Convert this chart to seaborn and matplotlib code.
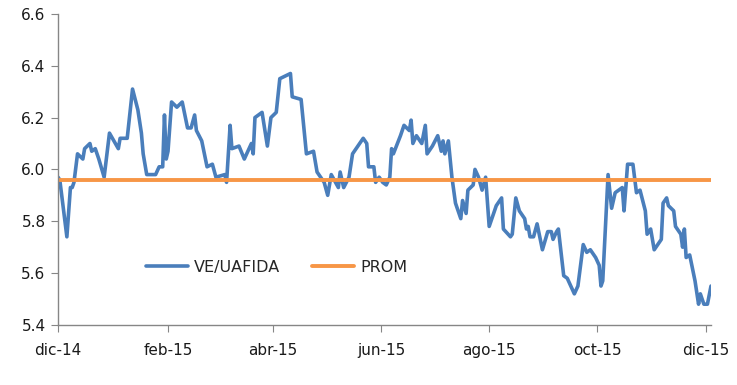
import pandas as pd
import matplotlib
matplotlib.use('Agg')
import matplotlib.pyplot as plt
import seaborn as sns

# Serie VE/UAFIDA
fechas = ['2014-12-01', '2014-12-02', '2014-12-06', '2014-12-08', '2014-12-09', '2014-12-10',
          '2014-12-12', '2014-12-15', '2014-12-16', '2014-12-19', '2014-12-20', '2014-12-22',
          '2014-12-24', '2014-12-27', '2014-12-30', '2015-01-04', '2015-01-05', '2015-01-09',
          '2015-01-12', '2015-01-15', '2015-01-17', '2015-01-18', '2015-01-20', '2015-01-25',
          '2015-01-27', '2015-01-29', '2015-01-30', '2015-01-31', '2015-02-01', '2015-02-03',
          '2015-02-06', '2015-02-09', '2015-02-12', '2015-02-14', '2015-02-16', '2015-02-17',
          '2015-02-20', '2015-02-23', '2015-02-26', '2015-02-28', '2015-03-05', '2015-03-06',
          '2015-03-08', '2015-03-09', '2015-03-13', '2015-03-16', '2015-03-20', '2015-03-21',
          '2015-03-22', '2015-03-26', '2015-03-29', '2015-03-31', '2015-04-03', '2015-04-05',
          '2015-04-08', '2015-04-11', '2015-04-12', '2015-04-17', '2015-04-20', '2015-04-24',
          '2015-04-26', '2015-04-28', '2015-04-30', '2015-05-02', '2015-05-04', '2015-05-08',
          '2015-05-09', '2015-05-11', '2015-05-14', '2015-05-16', '2015-05-18', '2015-05-22',
          '2015-05-24', '2015-05-25', '2015-05-28', '2015-05-29', '2015-05-31', '2015-06-02',
          '2015-06-04', '2015-06-06', '2015-06-07', '2015-06-08', '2015-06-12', '2015-06-14',
          '2015-06-17', '2015-06-18', '2015-06-19', '2015-06-21', '2015-06-24', '2015-06-26',
          '2015-06-27', '2015-06-30', '2015-07-03', '2015-07-05', '2015-07-06', '2015-07-07',
          '2015-07-09', '2015-07-11', '2015-07-13', '2015-07-16', '2015-07-17', '2015-07-19',
          '2015-07-20', '2015-07-23', '2015-07-24', '2015-07-26', '2015-07-28', '2015-07-30',
          '2015-08-01', '2015-08-05', '2015-08-08', '2015-08-09', '2015-08-13', '2015-08-14',
          '2015-08-16', '2015-08-18', '2015-08-21', '2015-08-22', '2015-08-23', '2015-08-24',
          '2015-08-26', '2015-08-28', '2015-08-31', '2015-09-03', '2015-09-05', '2015-09-06',
          '2015-09-08', '2015-09-09', '2015-09-12', '2015-09-14', '2015-09-18', '2015-09-20',
          '2015-09-23', '2015-09-25', '2015-09-27', '2015-09-30', '2015-10-02', '2015-10-03',
          '2015-10-04', '2015-10-07', '2015-10-09', '2015-10-11', '2015-10-15', '2015-10-16',
          '2015-10-18', '2015-10-21', '2015-10-23', '2015-10-25', '2015-10-28', '2015-10-29',
          '2015-10-31', '2015-11-02', '2015-11-06', '2015-11-07', '2015-11-09', '2015-11-10',
          '2015-11-13', '2015-11-14', '2015-11-17', '2015-11-18', '2015-11-19', '2015-11-20',
          '2015-11-22', '2015-11-25', '2015-11-27', '2015-11-28', '2015-11-30', '2015-12-02',
          '2015-12-04']

ve_uafida = [5.97, 5.96, 5.74, 5.93, 5.93, 5.95,
             6.06, 6.04, 6.08, 6.10, 6.07, 6.08,
             6.04, 5.97, 6.14, 6.08, 6.12, 6.12,
             6.31, 6.23, 6.14, 6.06, 5.98, 5.98,
             6.01, 6.01, 6.21, 6.04, 6.07, 6.26,
             6.24, 6.26, 6.16, 6.16, 6.21, 6.15,
             6.11, 6.01, 6.02, 5.97, 5.98, 5.95,
             6.17, 6.08, 6.09, 6.04, 6.10, 6.06,
             6.20, 6.22, 6.09, 6.20, 6.22, 6.35,
             6.36, 6.37, 6.28, 6.27, 6.06, 6.07,
             5.99, 5.97, 5.95, 5.90, 5.98, 5.93,
             5.99, 5.93, 5.97, 6.06, 6.08, 6.12,
             6.10, 6.01, 6.01, 5.95, 5.97, 5.95,
             5.94, 5.97, 6.08, 6.06, 6.13, 6.17,
             6.15, 6.19, 6.10, 6.13, 6.10, 6.17,
             6.06, 6.09, 6.13, 6.07, 6.11, 6.06,
             6.11, 5.97, 5.87, 5.81, 5.88, 5.83,
             5.92, 5.94, 6.00, 5.97, 5.92, 5.97,
             5.78, 5.86, 5.89, 5.77, 5.74, 5.75,
             5.89, 5.84, 5.81, 5.77, 5.78, 5.74,
             5.74, 5.79, 5.69, 5.76, 5.76, 5.73,
             5.76, 5.77, 5.59, 5.58, 5.52, 5.55,
             5.71, 5.68, 5.69, 5.66, 5.63, 5.55,
             5.57, 5.98, 5.85, 5.91, 5.93, 5.84,
             6.02, 6.02, 5.91, 5.92, 5.84, 5.75,
             5.77, 5.69, 5.73, 5.87, 5.89, 5.86,
             5.84, 5.78, 5.75, 5.70, 5.77, 5.66,
             5.67, 5.57, 5.48, 5.52, 5.48, 5.48,
             5.55]

prom = 5.96

tick_fechas = ['2014-12-01', '2015-02-01', '2015-04-01', '2015-06-01', '2015-08-01', '2015-10-01', '2015-12-01']
tick_labels = ['dic-14', 'feb-15', 'abr-15', 'jun-15', 'ago-15', 'oct-15', 'dic-15']
y_ticks = [5.4, 5.6, 5.8, 6.0, 6.2, 6.4, 6.6]

df = pd.DataFrame({'fecha': pd.to_datetime(fechas), 'VE/UAFIDA': ve_uafida})
df['PROM'] = prom

sns.set_style('white')
plt.rcParams['font.family'] = ['DejaVu Sans']

fig = plt.figure(figsize=(7.37, 3.85), dpi=100)
ax = fig.add_axes([0.0787, 0.156, 0.886, 0.808])

sns.lineplot(data=df, x='fecha', y='VE/UAFIDA', ax=ax, color='#4A7EBB', linewidth=2.6,
             label='VE/UAFIDA', solid_joinstyle='round')
sns.lineplot(data=df, x='fecha', y='PROM', ax=ax, color='#F79646', linewidth=2.8, label='PROM')

ax.set_xlim(pd.Timestamp(fechas[0]), pd.Timestamp(fechas[-1]))
ax.set_ylim(y_ticks[0], y_ticks[-1])
ax.set_xticks(pd.to_datetime(tick_fechas))
ax.set_xticklabels(tick_labels)
ax.set_yticks(y_ticks)
ax.set_yticklabels([f'{v:.1f}' for v in y_ticks])
ax.set_xlabel('')
ax.set_ylabel('')

for s in ['top', 'right']:
    ax.spines[s].set_visible(False)
for s in ['left', 'bottom']:
    ax.spines[s].set_color('#868686')
    ax.spines[s].set_linewidth(1.0)
ax.tick_params(axis='both', direction='out', length=5, color='#868686', labelsize=11, labelcolor='#1a1a1a')
ax.tick_params(axis='x', pad=8, bottom=True)
ax.tick_params(axis='y', pad=4, left=True)
ax.grid(False)

ax.legend(loc='center', bbox_to_anchor=(0.335, 0.186), ncol=2, frameon=False,
          fontsize=11.5, handlelength=2.6, columnspacing=2.0, handletextpad=0.4)

fig.savefig('out.png', dpi=100)
